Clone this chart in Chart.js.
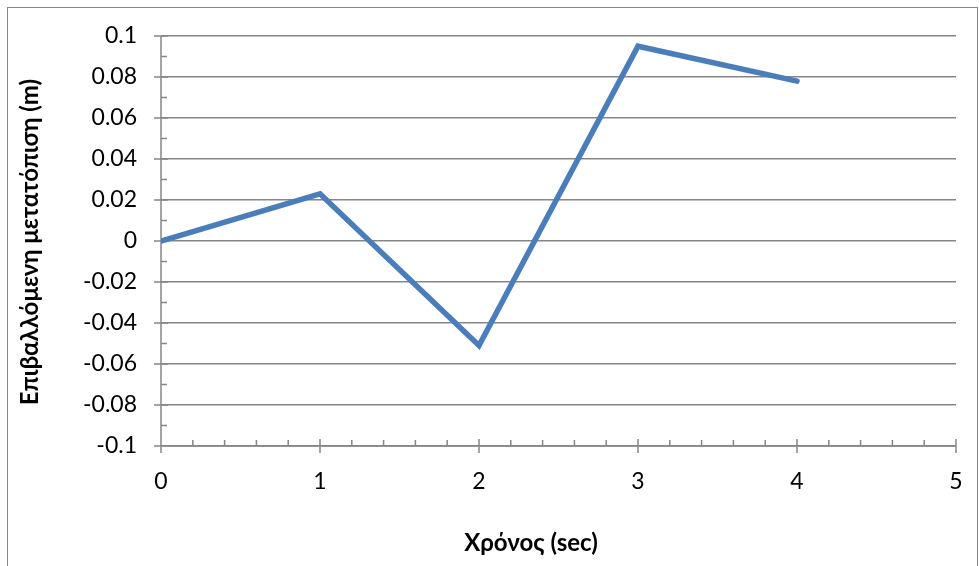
<!DOCTYPE html>
<html>
<head>
<meta charset="utf-8">
<script src="https://cdn.jsdelivr.net/npm/chart.js@4.4.1/dist/chart.umd.min.js"></script>
<style>
  html, body { margin: 0; padding: 0; background: #ffffff; }
  canvas { display: block; }
</style>
</head>
<body>
<canvas id="chart" width="979" height="566"></canvas>
<script>
// Measured displacement over time
const timeSec = [0, 1, 2, 3, 4];
const displacement = [0, 0.023, -0.051, 0.095, 0.078];

// Axis ticks and labels
const xTicks = [0, 1, 2, 3, 4, 5];
const xTickLabels = ['0', '1', '2', '3', '4', '5'];
const yTicks = [-0.1, -0.08, -0.06, -0.04, -0.02, 0, 0.02, 0.04, 0.06, 0.08, 0.1];
const yTickLabels = ['-0.1', '-0.08', '-0.06', '-0.04', '-0.02', '0', '0.02', '0.04', '0.06', '0.08', '0.1'];
const xMinorStep = 0.2;
const yMinorStep = 0.01;

const xTitle = 'Χρόνος (sec)';
const yTitle = 'Επιβαλλόμενη μετατόπιση (m)';

const AXIS_GRAY = '#868686';
const FONT_FAMILY = "Lato, 'Open Sans', 'Noto Sans', sans-serif";

function labelFor(values, labels, v) {
  for (let i = 0; i < values.length; i++) {
    if (Math.abs(values[i] - v) < 1e-9) return labels[i];
  }
  return '';
}

// Axis lines, crossing major ticks, inner minor ticks, frame and titles
const axisDecor = {
  id: 'axisDecor',
  beforeDatasetsDraw(chart) {
    const { ctx, chartArea: a, scales: { x, y } } = chart;
    ctx.save();
    ctx.strokeStyle = AXIS_GRAY;
    ctx.lineWidth = 1.5;
    ctx.beginPath();
    // axis lines
    ctx.moveTo(a.left, a.top); ctx.lineTo(a.left, a.bottom);
    ctx.moveTo(a.left, a.bottom); ctx.lineTo(a.right, a.bottom);
    // x major ticks (crossing)
    xTicks.forEach(v => {
      const px = x.getPixelForValue(v);
      ctx.moveTo(px, a.bottom - 7); ctx.lineTo(px, a.bottom + 7);
    });
    // x minor ticks (inside)
    const xMin = xTicks[0], xMax = xTicks[xTicks.length - 1];
    for (let k = 1; xMin + k * xMinorStep < xMax - 1e-9; k++) {
      const v = xMin + k * xMinorStep;
      if (Math.abs(v - Math.round(v)) < 1e-9) continue;
      const px = x.getPixelForValue(v);
      ctx.moveTo(px, a.bottom); ctx.lineTo(px, a.bottom - 6);
    }
    // y major ticks (crossing)
    yTicks.forEach(v => {
      const py = y.getPixelForValue(v);
      ctx.moveTo(a.left - 7, py); ctx.lineTo(a.left + 7, py);
    });
    // y minor ticks (inside)
    const yMin = yTicks[0], yMax = yTicks[yTicks.length - 1];
    for (let k = 1; yMin + k * yMinorStep < yMax - 1e-9; k++) {
      if (k % 2 === 0) continue;
      const py = y.getPixelForValue(yMin + k * yMinorStep);
      ctx.moveTo(a.left, py); ctx.lineTo(a.left + 6, py);
    }
    ctx.stroke();

    // outer chart frame
    ctx.lineWidth = 1;
    ctx.strokeStyle = AXIS_GRAY;
    ctx.strokeRect(7.5, 7.5, 970, 570);

    // axis titles
    ctx.fillStyle = '#000000';
    ctx.font = 'bold 24px ' + FONT_FAMILY;
    ctx.textAlign = 'center';
    ctx.textBaseline = 'middle';
    ctx.fillText(xTitle, 531, 543);
    ctx.translate(30, 242);
    ctx.rotate(-Math.PI / 2);
    ctx.fillText(yTitle, 0, 0);
    ctx.restore();
  }
};

new Chart(document.getElementById('chart'), {
  type: 'scatter',
  data: {
    datasets: [{
      data: timeSec.map((t, i) => ({ x: t, y: displacement[i] })),
      showLine: true,
      borderColor: '#4a7ebb',
      backgroundColor: '#4a7ebb',
      borderWidth: 5.5,
      borderCapStyle: 'round',
      borderJoinStyle: 'miter',
      pointRadius: 0,
      pointHoverRadius: 0,
      tension: 0
    }]
  },
  options: {
    responsive: false,
    animation: false,
    events: [],
    layout: { padding: { left: 0, top: 36, right: 23, bottom: 0 } },
    plugins: { legend: { display: false }, tooltip: { enabled: false } },
    scales: {
      x: {
        type: 'linear',
        min: xTicks[0],
        max: xTicks[xTicks.length - 1],
        afterFit(scale) { scale.height = 120; scale.paddingLeft = 0; scale.paddingRight = 0; },
        afterBuildTicks(scale) { scale.ticks = xTicks.map(v => ({ value: v })); },
        grid: { display: false, drawTicks: false },
        border: { display: false },
        ticks: {
          padding: 22,
          color: '#000000',
          font: { family: FONT_FAMILY, size: 23 },
          maxRotation: 0,
          callback: v => labelFor(xTicks, xTickLabels, v)
        }
      },
      y: {
        type: 'linear',
        min: yTicks[0],
        max: yTicks[yTicks.length - 1],
        afterFit(scale) { scale.width = 161; scale.paddingTop = 0; scale.paddingBottom = 0; },
        afterBuildTicks(scale) { scale.ticks = yTicks.map(v => ({ value: v })); },
        grid: { color: AXIS_GRAY, lineWidth: 1.5, drawTicks: false },
        border: { display: false },
        ticks: {
          padding: 24,
          color: '#000000',
          font: { family: FONT_FAMILY, size: 23 },
          callback: v => labelFor(yTicks, yTickLabels, v)
        }
      }
    }
  },
  plugins: [axisDecor]
});
</script>
</body>
</html>
